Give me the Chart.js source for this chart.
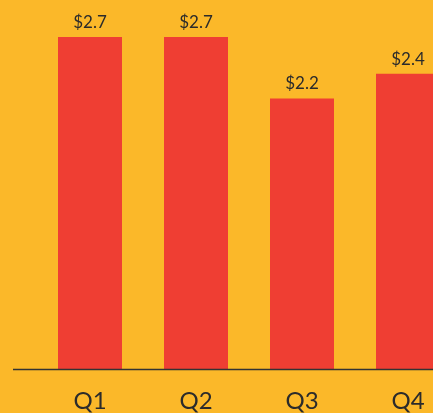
<!DOCTYPE html>
<html>
<head>
<meta charset="utf-8">
<script src="https://cdn.jsdelivr.net/npm/chart.js@4/dist/chart.umd.min.js"></script>
<style>
  html, body { margin: 0; padding: 0; background: #FBB829; overflow: hidden; }
  #wrap { width: 433px; height: 413px; overflow: hidden; position: relative; }
  #box { position: absolute; left: 0; top: 0; width: 461px; height: 413px; }
</style>
</head>
<body>
<div id="wrap"><div id="box"><canvas id="chartRevenue"></canvas></div></div>
<script>
const quarters = ['Q1', 'Q2', 'Q3', 'Q4'];
const revenue = [2.7, 2.7, 2.2, 2.4];
const yMax = 3;

const barColor = '#EF3E33';
const textColor = '#2B2B2B';
const fontFamily = 'Lato, "Open Sans", sans-serif';

// value labels above each bar + baseline running past the left edge
const valueLabels = {
    id: 'valueLabels',
    afterDatasetsDraw(chart) {
        const ctx = chart.ctx;
        const area = chart.chartArea;
        ctx.save();
        ctx.strokeStyle = '#333333';
        ctx.lineWidth = 1.5;
        ctx.beginPath();
        ctx.moveTo(area.left - 24, area.bottom + 0.5);
        ctx.lineTo(chart.width, area.bottom + 0.5);
        ctx.stroke();

        ctx.fillStyle = textColor;
        ctx.font = '17px ' + fontFamily;
        ctx.textAlign = 'center';
        ctx.textBaseline = 'bottom';
        chart.getDatasetMeta(0).data.forEach((bar, i) => {
            ctx.fillText('$' + revenue[i].toFixed(1), bar.x, bar.y - 6);
        });
        ctx.restore();
    }
};

const ctx = document.getElementById('chartRevenue').getContext('2d');
new Chart(ctx, {
    type: 'bar',
    data: {
        labels: quarters,
        datasets: [{
            data: revenue,
            backgroundColor: barColor,
            borderWidth: 0,
            barPercentage: 64 / 106,
            categoryPercentage: 1
        }]
    },
    options: {
        responsive: true,
        maintainAspectRatio: false,
        animation: false,
        layout: { padding: { left: 37, right: 0, top: 0, bottom: 0 } },
        plugins: { legend: { display: false }, tooltip: { enabled: false } },
        scales: {
            y: { display: false, min: 0, max: yMax },
            x: {
                grid: { display: false },
                border: { display: false },
                afterFit(scale) { scale.height = 44; },
                ticks: {
                    color: textColor,
                    font: { family: fontFamily, size: 24 },
                    padding: 10,
                    maxRotation: 0
                }
            }
        }
    },
    plugins: [valueLabels]
});
</script>
</body>
</html>
